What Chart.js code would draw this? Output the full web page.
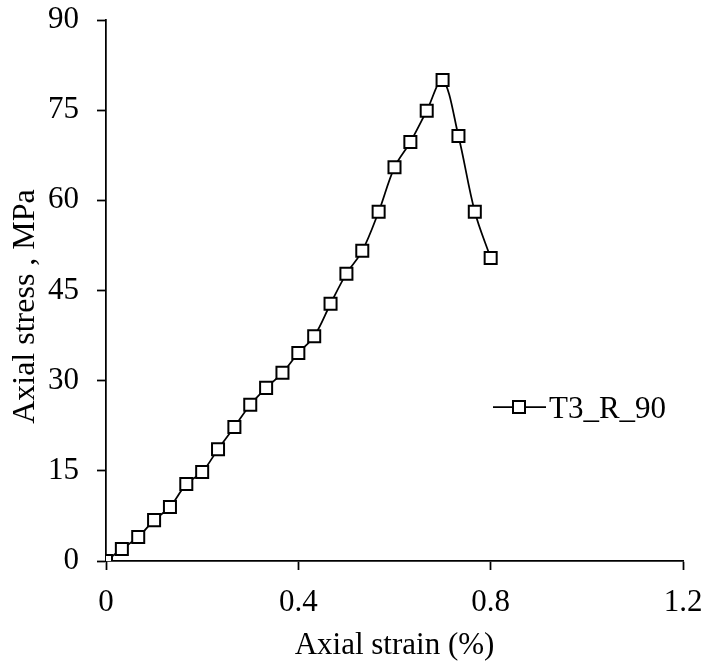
<!doctype html>
<html lang="en">
  <head>
    <meta charset="UTF-8" />
    <title>Axial stress vs strain</title>
    <script src="https://cdn.jsdelivr.net/npm/chart.js"></script>
    <style>
      body { margin: 0; background: white; }
      #wrap { width: 707px; height: 666px; }
    </style>
  </head>
  <body>
    <div id="wrap"><canvas id="stressChart" width="707" height="666"></canvas></div>

    <script>
      const seriesName = "T3_R_90";
      const strain = [0, 0.033, 0.067, 0.1, 0.133, 0.167, 0.2, 0.233, 0.267, 0.3, 0.333, 0.367,
        0.4, 0.433, 0.467, 0.5, 0.533, 0.567, 0.6, 0.633, 0.667, 0.7, 0.733, 0.767, 0.8];
      const stress = [0, 2.0, 4.0, 6.8, 9.0, 12.8, 14.8, 18.6, 22.3, 26.0, 28.8, 31.3,
        34.6, 37.4, 42.8, 47.8, 51.6, 58.1, 65.5, 69.7, 74.9, 80.0, 70.7, 58.1, 50.4];
      const xTicks = [0, 0.4, 0.8, 1.2];
      const yTicks = [0, 15, 30, 45, 60, 75, 90];

      const font = { family: "'Liberation Serif', 'Times New Roman', serif", size: 31 };

      // keep the plot box fixed: no extra room for overhanging tick labels
      function fixBox(size) {
        return (s) => {
          if (s.isHorizontal()) s.height = size; else s.width = size;
          s.paddingLeft = s.paddingRight = s.paddingTop = s.paddingBottom = 0;
        };
      }

      // legend drawn by hand: line through a square marker, then the label
      const lineLegend = {
        id: "lineLegend",
        afterDraw(chart) {
          const ctx = chart.ctx;
          const ds = chart.data.datasets[0];
          const y = 407;
          ctx.save();
          ctx.strokeStyle = "#000";
          ctx.lineWidth = 1.75;
          ctx.beginPath();
          ctx.moveTo(493, y);
          ctx.lineTo(546, y);
          ctx.stroke();
          ctx.fillStyle = "#fff";
          ctx.lineWidth = 2;
          ctx.fillRect(513, y - 6, 12, 12);
          ctx.strokeRect(513, y - 6, 12, 12);
          ctx.fillStyle = "#000";
          ctx.font = font.size + "px " + font.family;
          ctx.textBaseline = "alphabetic";
          ctx.fillText(ds.label, 549, y + 11);
          ctx.restore();
        },
      };

      new Chart(document.getElementById("stressChart"), {
        type: "line",
        data: {
          datasets: [
            {
              label: seriesName,
              data: strain.map((x, i) => ({ x: x, y: stress[i] })),
              borderColor: "#000",
              borderWidth: 1.75,
              tension: 0.35,
              pointStyle: "rect",
              pointRadius: 8.5,
              pointBorderWidth: 2,
              pointBackgroundColor: "#fff",
              pointBorderColor: "#000",
            },
          ],
        },
        options: {
          responsive: false,
          animation: false,
          layout: { padding: { top: 20, right: 24, left: 0, bottom: 0 } },
          plugins: { legend: { display: false }, tooltip: { enabled: false } },
          scales: {
            x: {
              type: "linear",
              min: 0,
              max: 1.2,
              afterBuildTicks: (s) => { s.ticks = xTicks.map((v) => ({ value: v })); },
              afterFit: fixBox(105),
              ticks: {
                color: "#000",
                font: font,
                padding: 14,
                maxRotation: 0,
                callback: (v) => String(+v.toFixed(1)),
              },
              grid: { drawOnChartArea: false, tickLength: 9, tickColor: "#000", tickWidth: 1.75 },
              border: { color: "#000", width: 1.75 },
              title: { display: true, text: "Axial strain (%)", color: "#000", font: font, padding: { top: 0, bottom: 2 } },
            },
            y: {
              min: 0,
              max: 90,
              afterBuildTicks: (s) => { s.ticks = yTicks.map((v) => ({ value: v })); },
              afterFit: fixBox(106),
              ticks: { color: "#000", font: font, padding: 18 },
              grid: { drawOnChartArea: false, tickLength: 9, tickColor: "#000", tickWidth: 1.75 },
              border: { color: "#000", width: 1.75 },
              // trailing spaces nudge the rotated title a little below the axis middle
              title: { display: true, text: "Axial stress , MPa    ", color: "#000", font: { family: font.family, size: 32 }, padding: { top: 6, bottom: 0 } },
            },
          },
        },
        plugins: [lineLegend],
      });
    </script>
  </body>
</html>
